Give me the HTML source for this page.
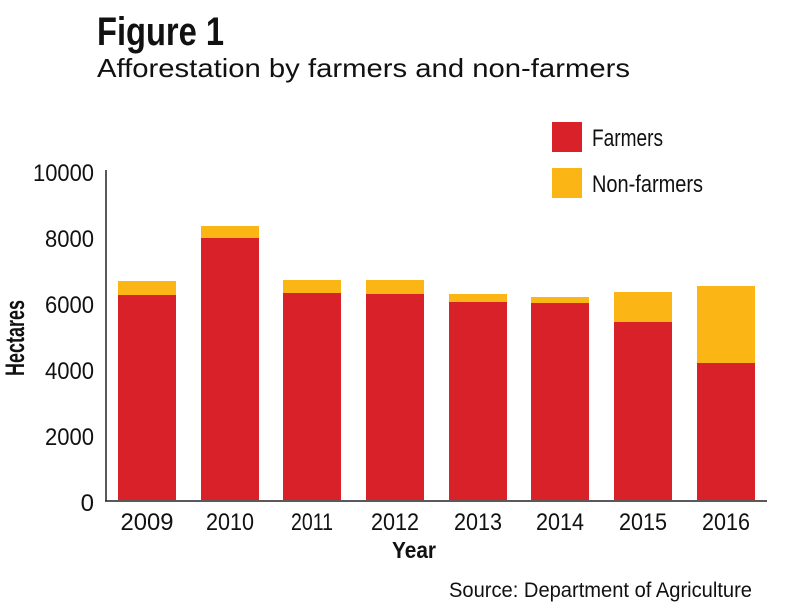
<!DOCTYPE html>
<html><head><meta charset="utf-8"><style>
html,body{margin:0;padding:0;background:#fff;}
svg{display:block;}
text{font-family:"Liberation Sans Narrow","Liberation Sans",sans-serif;fill:#111;}
</style></head><body>
<svg width="790" height="614" viewBox="0 0 790 614" xmlns="http://www.w3.org/2000/svg">
<text x="97" y="45" font-size="40" font-weight="bold" textLength="127" lengthAdjust="spacingAndGlyphs">Figure 1</text>
<text x="97" y="77" font-size="26" textLength="533" lengthAdjust="spacingAndGlyphs" style="font-family:'Liberation Sans',sans-serif">Afforestation by farmers and non-farmers</text>
<rect x="552" y="122" width="30" height="30" fill="#d82128"/>
<text x="592" y="146" font-size="24" textLength="71" lengthAdjust="spacingAndGlyphs">Farmers</text>
<rect x="552" y="168" width="30" height="30" fill="#fbb616"/>
<text x="592" y="192" font-size="24" textLength="111" lengthAdjust="spacingAndGlyphs">Non-farmers</text>
<g font-size="24" text-anchor="end">
<text x="94" y="181" textLength="61" lengthAdjust="spacingAndGlyphs">10000</text>
<text x="94" y="247" textLength="49" lengthAdjust="spacingAndGlyphs">8000</text>
<text x="94" y="313" textLength="49" lengthAdjust="spacingAndGlyphs">6000</text>
<text x="94" y="379" textLength="49" lengthAdjust="spacingAndGlyphs">4000</text>
<text x="94" y="445" textLength="49" lengthAdjust="spacingAndGlyphs">2000</text>
<text x="94" y="511">0</text>
</g>
<text transform="translate(24,338) rotate(-90)" font-size="27" font-weight="bold" text-anchor="middle" textLength="76" lengthAdjust="spacingAndGlyphs">Hectares</text>
<g>
<rect x="118" y="281" width="58" height="14" fill="#fbb616"/><rect x="118" y="295" width="58" height="205" fill="#d82128"/>
<rect x="201" y="226" width="58" height="12" fill="#fbb616"/><rect x="201" y="238" width="58" height="262" fill="#d82128"/>
<rect x="283" y="280" width="58" height="13" fill="#fbb616"/><rect x="283" y="293" width="58" height="207" fill="#d82128"/>
<rect x="366" y="280" width="58" height="14" fill="#fbb616"/><rect x="366" y="294" width="58" height="206" fill="#d82128"/>
<rect x="449" y="294" width="58" height="8" fill="#fbb616"/><rect x="449" y="302" width="58" height="198" fill="#d82128"/>
<rect x="531" y="297" width="58" height="6" fill="#fbb616"/><rect x="531" y="303" width="58" height="197" fill="#d82128"/>
<rect x="614" y="292" width="58" height="30" fill="#fbb616"/><rect x="614" y="322" width="58" height="178" fill="#d82128"/>
<rect x="697" y="286" width="58" height="77" fill="#fbb616"/><rect x="697" y="363" width="58" height="137" fill="#d82128"/>
</g>
<line x1="106" y1="170" x2="106" y2="501" stroke="#222" stroke-width="1.5"/>
<line x1="105" y1="501" x2="767" y2="501" stroke="#222" stroke-width="1.5"/>
<g font-size="24" text-anchor="middle">
<text x="147" y="530" textLength="53" lengthAdjust="spacingAndGlyphs">2009</text>
<text x="230" y="530" textLength="48" lengthAdjust="spacingAndGlyphs">2010</text>
<text x="312" y="530" textLength="42" lengthAdjust="spacingAndGlyphs">2011</text>
<text x="395" y="530" textLength="48" lengthAdjust="spacingAndGlyphs">2012</text>
<text x="478" y="530" textLength="48" lengthAdjust="spacingAndGlyphs">2013</text>
<text x="560" y="530" textLength="48" lengthAdjust="spacingAndGlyphs">2014</text>
<text x="643" y="530" textLength="48" lengthAdjust="spacingAndGlyphs">2015</text>
<text x="726" y="530" textLength="48" lengthAdjust="spacingAndGlyphs">2016</text>
</g>
<text x="392" y="558" font-size="23" font-weight="bold" textLength="44" lengthAdjust="spacingAndGlyphs">Year</text>
<text x="449" y="597" font-size="21" textLength="303" lengthAdjust="spacingAndGlyphs">Source: Department of Agriculture</text>
</svg>
</body></html>
